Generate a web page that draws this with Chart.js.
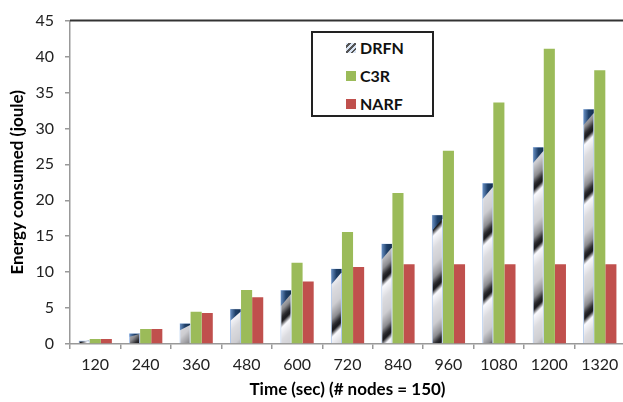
<!DOCTYPE html>
<html>
<head>
<meta charset="utf-8">
<script src="https://cdn.jsdelivr.net/npm/chart.js@4.4.1/dist/chart.umd.min.js"></script>
<style>
  html, body { margin: 0; padding: 0; background: #fff; overflow: hidden; }
  #wrap { position: relative; width: 626px; height: 402px; }
  #legend {
    position: absolute; left: 311px; top: 31px; width: 119px; height: 82px;
    border: 2px solid #222; background: #fff; font-family: Lato, sans-serif;
    font-weight: bold; font-size: 16px; color: #111;
  }
  #legend div { position: absolute; left: 33px; height: 20px; line-height: 20px; }
  #legend span.box { position: absolute; left: 0; top: 5px; width: 10px; height: 10px; }
  #legend span.txt { position: absolute; left: 14px; top: 0; white-space: nowrap; }
</style>
</head>
<body>
<div id="wrap">
  <canvas id="chart" width="626" height="402"></canvas>
  <div id="legend"></div>
</div>
<script>
const categories = ["120", "240", "360", "480", "600", "720", "840", "960", "1080", "1200", "1320"];
const drfn = [0.5, 1.5, 2.9, 4.9, 7.5, 10.5, 14.0, 18.0, 22.4, 27.4, 32.7];
const c3r  = [0.7, 2.1, 4.5, 7.5, 11.3, 15.6, 21.0, 26.9, 33.6, 41.1, 38.1];
const narf = [0.7, 2.1, 4.3, 6.5, 8.7, 10.7, 11.1, 11.1, 11.1, 11.1, 11.1];
const yTicks = [0, 5, 10, 15, 20, 25, 30, 35, 40, 45];

// diagonal grey/black streak pattern for DRFN bars
function makeStripes(period) {
  const c = document.createElement("canvas");
  c.width = period; c.height = period;
  const g = c.getContext("2d");
  const img = g.createImageData(period, period);
  const stops = [[0, 30], [0.04, 30], [0.14, 250], [0.35, 220], [0.62, 205], [0.84, 140], [0.95, 50], [1, 30]];
  function shade(t) {
    for (let i = 1; i < stops.length; i++) {
      if (t <= stops[i][0]) {
        const a = stops[i - 1], b = stops[i];
        const k = (t - a[0]) / (b[0] - a[0]);
        return a[1] + (b[1] - a[1]) * k;
      }
    }
    return 30;
  }
  for (let y = 0; y < period; y++) {
    for (let x = 0; x < period; x++) {
      const t = ((x + y) % period) / period;
      const v = shade(t);
      const i = (y * period + x) * 4;
      img.data[i] = v; img.data[i + 1] = v; img.data[i + 2] = v + 4; img.data[i + 3] = 255;
    }
  }
  g.putImageData(img, 0, 0);
  return g.createPattern(c, "repeat");
}
const stripe = makeStripes(60);

// blue cap on top of the DRFN bars + black frame line at the top
const extras = {
  id: "extras",
  afterDatasetsDraw(chart) {
    const ctx = chart.ctx;
    const meta = chart.getDatasetMeta(0);
    ctx.save();
    meta.data.forEach(bar => {
      const h = bar.base - bar.y;
      const cap = Math.min(16, h * 0.35);
      const l = bar.x - bar.width / 2, r = bar.x + bar.width / 2;
      const grad = ctx.createLinearGradient(l, bar.y, r, bar.y);
      grad.addColorStop(0, "#6d95c9");
      grad.addColorStop(0.5, "#1f3f68");
      grad.addColorStop(1, "#15304f");
      ctx.fillStyle = grad;
      ctx.beginPath();
      ctx.moveTo(l + 0.5, bar.y + 0.5);
      ctx.lineTo(r - 0.5, bar.y + 0.5);
      ctx.lineTo(r - 0.5, bar.y + cap * 0.25);
      ctx.lineTo(l + 0.5, bar.y + cap);
      ctx.closePath();
      ctx.fill();
    });
    const a = chart.chartArea;
    ctx.strokeStyle = "#333";
    ctx.lineWidth = 2;
    ctx.beginPath();
    ctx.moveTo(a.left, a.top);
    ctx.lineTo(a.right, a.top);
    ctx.stroke();
    ctx.restore();
  }
};

const chart = new Chart(document.getElementById("chart"), {
  type: "bar",
  data: {
    labels: categories,
    datasets: [
      { label: "DRFN", data: drfn, backgroundColor: stripe, borderColor: "#a9c4ea", borderWidth: 1 },
      { label: "C3R", data: c3r, backgroundColor: "#9bbb59", borderWidth: 0 },
      { label: "NARF", data: narf, backgroundColor: "#c0504d", borderWidth: 0 }
    ]
  },
  options: {
    responsive: false,
    animation: false,
    layout: { padding: { left: 7, right: 1, top: 17, bottom: 2 } },
    plugins: { legend: { display: false }, tooltip: { enabled: false } },
    datasets: { bar: { categoryPercentage: 0.66, barPercentage: 1.0 } },
    scales: {
      x: {
        grid: { display: true, drawOnChartArea: false, offset: true, tickLength: 5, color: "#999", lineWidth: 1.5 },
        border: { color: "#999", width: 1.5 },
        ticks: { color: "#222", font: { family: "Lato", size: 16 }, padding: 6, maxRotation: 0 },
        title: { display: true, text: "Time (sec) (# nodes = 150)", color: "#000",
                 font: { family: "Lato", size: 17, weight: "bold" }, padding: { top: 1, bottom: 0 } },
        afterFit(scale) { scale.height = 56; }
      },
      y: {
        min: 0, max: 45,
        afterBuildTicks(scale) { scale.ticks = yTicks.map(v => ({ value: v })); },
        grid: { display: true, drawOnChartArea: false, tickLength: 5, color: "#999", lineWidth: 1.5 },
        border: { color: "#999", width: 1.5 },
        ticks: { color: "#222", font: { family: "Lato", size: 16 }, padding: 11 },
        title: { display: true, text: "Energy consumed (joule)", color: "#000",
                 font: { family: "Lato", size: 17, weight: "bold" }, padding: { top: 0, bottom: 4 } },
        afterFit(scale) { scale.width = 63; }
      }
    }
  },
  plugins: [extras]
});

// legend box built from the datasets
const legend = document.getElementById("legend");
chart.data.datasets.forEach((ds, i) => {
  const row = document.createElement("div");
  row.style.top = (5 + i * 28) + "px";
  const box = document.createElement("span");
  box.className = "box";
  if (i === 0) {
    box.style.background = "repeating-linear-gradient(135deg, #d9e4f3 0 2px, #555 2px 4px)";
  } else {
    box.style.background = ds.backgroundColor;
  }
  const txt = document.createElement("span");
  txt.className = "txt";
  txt.textContent = ds.label;
  row.appendChild(box);
  row.appendChild(txt);
  legend.appendChild(row);
});
</script>
</body>
</html>
